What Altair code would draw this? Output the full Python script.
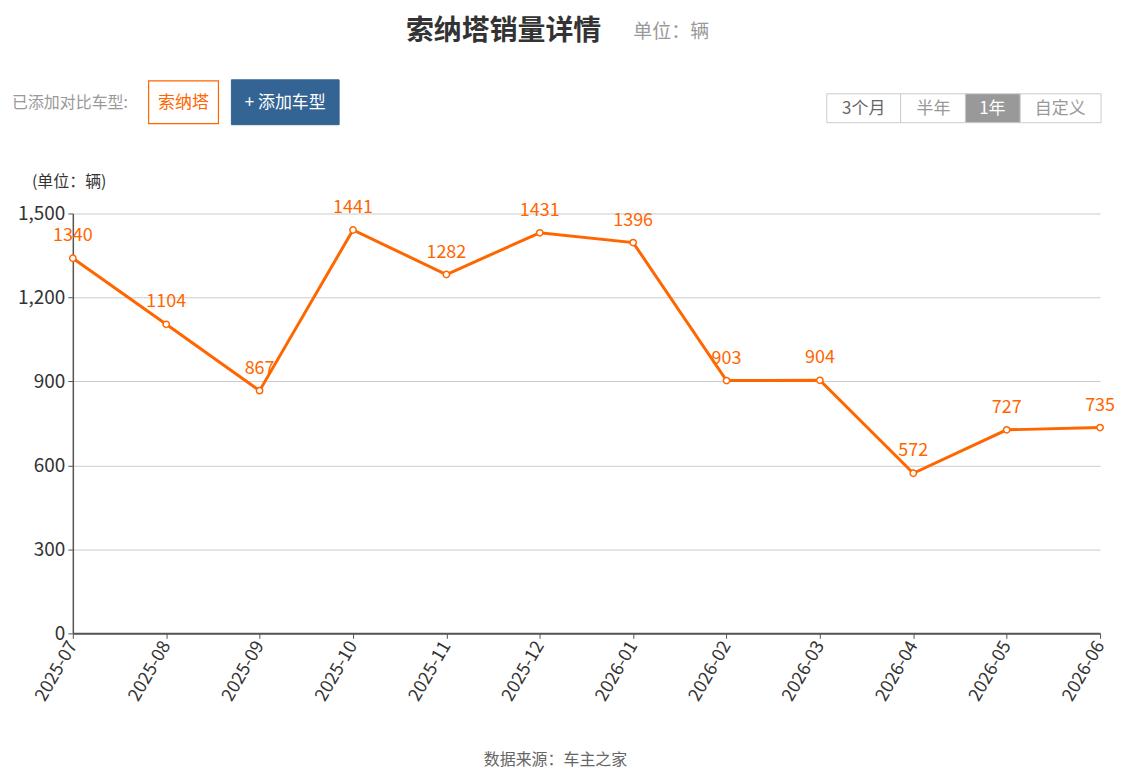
import altair as alt
import pandas as pd

months = ["2025-07", "2025-08", "2025-09", "2025-10", "2025-11", "2025-12",
          "2026-01", "2026-02", "2026-03", "2026-04", "2026-05", "2026-06"]
sales = [1340, 1104, 867, 1441, 1282, 1431, 1396, 903, 904, 572, 727, 735]
y_ticks = [0, 300, 600, 900, 1200, 1500]

df = pd.DataFrame({"month": months, "sales": sales})

ORANGE = "#ff6600"
FONT = "Noto Sans CJK SC"

x_enc = alt.X("month:N", sort=months, title=None,
              scale=alt.Scale(type="point", padding=0),
              axis=alt.Axis(labelAngle=-60, labelAlign="right", labelBaseline="middle",
                            labelFontSize=18, labelColor="#333", labelFont=FONT,
                            tickSize=5, tickColor="#555", domainColor="#555",
                            domainWidth=2, grid=False, labelPadding=4))
y_enc = alt.Y("sales:Q", title=None,
              scale=alt.Scale(domain=[0, 1500], nice=False),
              axis=alt.Axis(values=y_ticks, format=",d", labelFontSize=19,
                            labelColor="#333", labelFont=FONT, tickSize=5,
                            tickColor="#555", domainColor="#555", domainWidth=1.5,
                            gridColor="#cccccc", labelPadding=3))

base = alt.Chart(df)
line = base.mark_line(color=ORANGE, strokeWidth=3).encode(x=x_enc, y=y_enc)
pts = base.mark_point(filled=True, fill="white", stroke=ORANGE, strokeWidth=1.5,
                      size=40, opacity=1).encode(x=x_enc, y=y_enc)
lbl = base.mark_text(color=ORANGE, fontSize=18, font=FONT, dy=-22,
                     baseline="middle").encode(x=x_enc, y=y_enc, text="sales:Q")

one = pd.DataFrame({"a": [0]})


def txt(s, x, y, size, color, align="left", weight="normal"):
    return alt.Chart(one).mark_text(text=s, fontSize=size, color=color, font=FONT,
                                    align=align, baseline="middle",
                                    fontWeight=weight).encode(
        x=alt.value(x), y=alt.value(y))


def box(x1, x2, y1, y2, fill, stroke, sw=1):
    return alt.Chart(one).mark_rect(fill=fill, stroke=stroke, strokeWidth=sw).encode(
        x=alt.value(x1), x2=alt.value(x2), y=alt.value(y1), y2=alt.value(y2))


deco = [
    txt("索纳塔销量详情", 334, -182, 28, "#333", weight="bold"),
    txt("单位：辆", 562, -182, 19, "#999"),
    txt("已添加对比车型:", -61, -111, 16, "#999"),
    box(76, 146, -133, -90, "white", ORANGE, 1.2),
    txt("索纳塔", 111, -111, 17, ORANGE, align="center"),
    box(159, 267, -134, -89, "#336494", "#336494"),
    txt("+ 添加车型", 213, -111, 17, "white", align="center"),
    box(756, 830, -120, -91, "white", "#cccccc"),
    box(830, 895, -120, -91, "white", "#cccccc"),
    box(895, 950, -120, -91, "#999999", "#cccccc"),
    box(950, 1031, -120, -91, "white", "#cccccc"),
    txt("3个月", 793, -105, 17, "#666", align="center"),
    txt("半年", 863, -105, 17, "#999", align="center"),
    txt("1年", 922, -105, 17, "white", align="center"),
    txt("自定义", 990, -105, 17, "#999", align="center"),
    txt("(单位：辆)", -41, -32, 16, "#333"),
    txt("数据来源：车主之家", 484, 548, 16, "#666", align="center"),
]

chart = alt.layer(line, pts, lbl, *deco).properties(
    width=1030, height=421,
    autosize=alt.AutoSizeParams(type="none"),
    padding={"left": 65, "top": 205, "right": 26, "bottom": 139},
).configure_view(stroke=None)

chart.save("out.html", embed_options={"renderer": "svg", "actions": False})
